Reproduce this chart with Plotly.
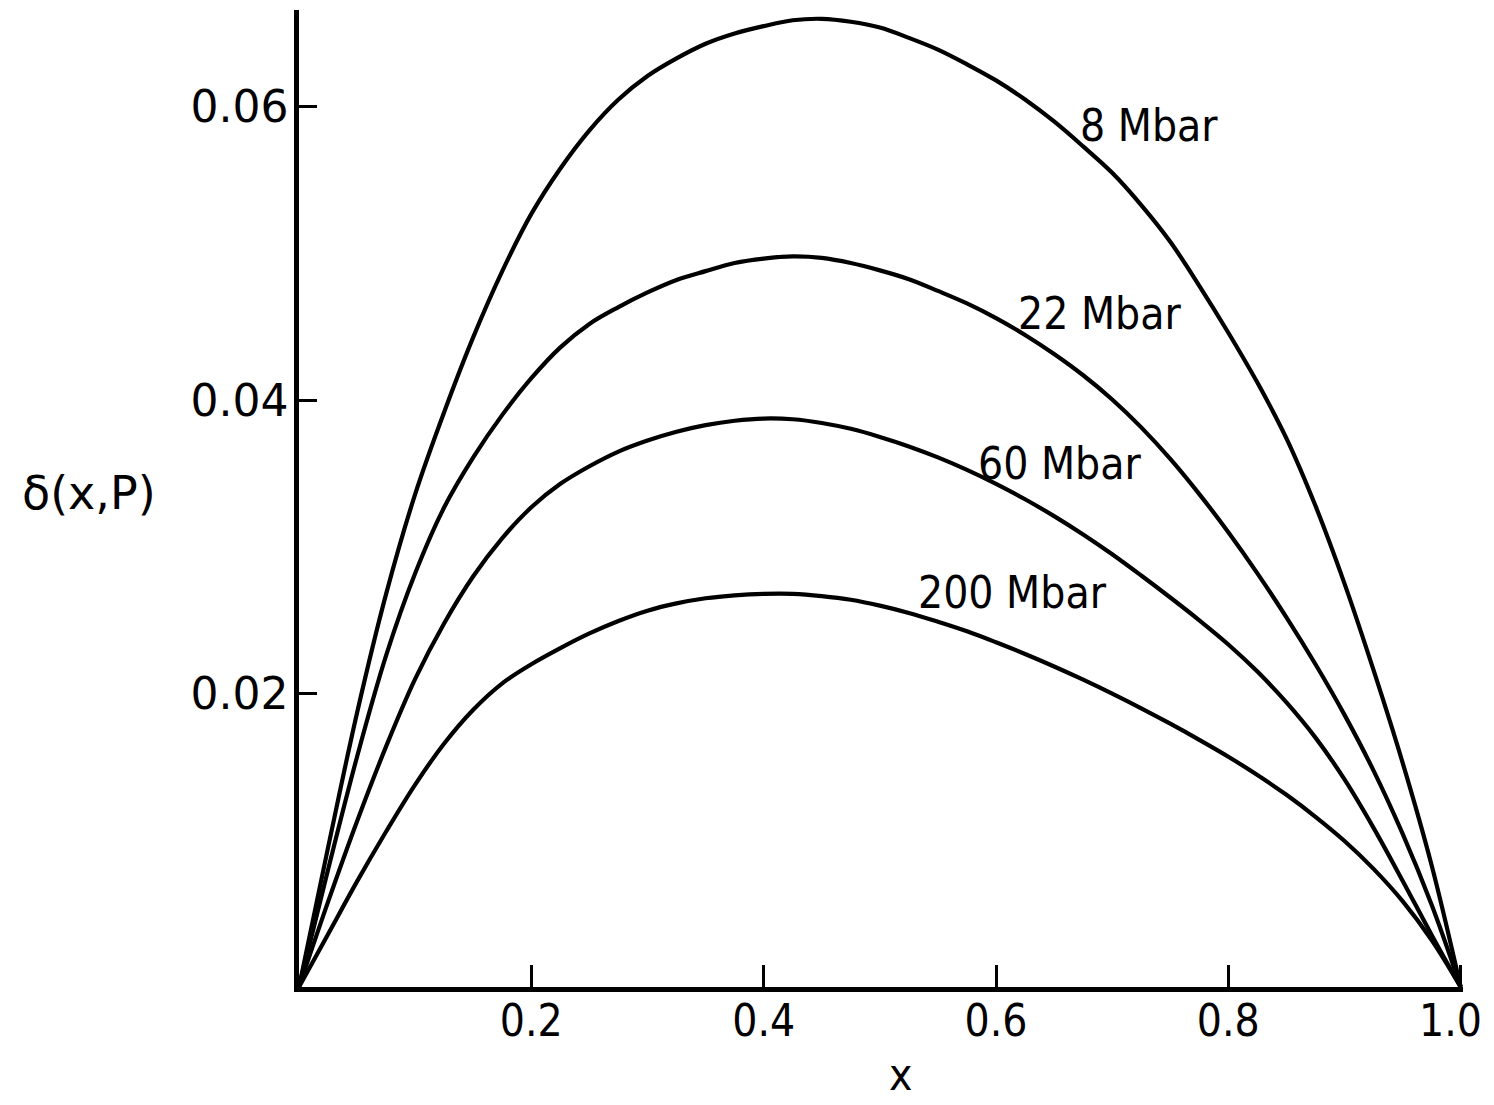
import plotly.graph_objects as go

# ---- data ----
x_grid = [0, 0.025, 0.05, 0.075, 0.10, 0.125, 0.15, 0.175, 0.20, 0.225, 0.25, 0.275, 0.30,
          0.325, 0.35, 0.375, 0.40, 0.425, 0.45, 0.475, 0.50, 0.525, 0.55, 0.575, 0.60,
          0.625, 0.65, 0.675, 0.70, 0.725, 0.75, 0.775, 0.80, 0.825, 0.85, 0.875, 0.90,
          0.925, 0.95, 0.975, 1.0]

y_8 = [0, 0.0095, 0.0187, 0.0268, 0.0336, 0.0392, 0.0443, 0.0488, 0.0527, 0.0558, 0.0584, 0.0605, 0.0621,
       0.0633, 0.0643, 0.0650, 0.0655, 0.0659, 0.0660, 0.0658, 0.0654, 0.0647, 0.0639, 0.0629, 0.0618,
       0.0605, 0.0590, 0.0573, 0.0555, 0.0533, 0.0508, 0.0478, 0.0446, 0.0412, 0.0374, 0.0328, 0.0275,
       0.0216, 0.0153, 0.0083, 0]

y_22 = [0, 0.0080, 0.0157, 0.0226, 0.0282, 0.0327, 0.0361, 0.0390, 0.0415, 0.0436, 0.0452, 0.04635, 0.04735,
        0.0482, 0.0488, 0.04935, 0.04965, 0.0498, 0.0497, 0.04935, 0.04885, 0.04825, 0.04745, 0.0466, 0.0456,
        0.04445, 0.04315, 0.0417, 0.04005, 0.03815, 0.0360, 0.0336, 0.0310, 0.0282, 0.0252, 0.0220, 0.01855,
        0.01475, 0.01045, 0.0056, 0]

y_60 = [0, 0.0058, 0.0113, 0.0164, 0.0210, 0.0248, 0.0280, 0.0306, 0.0327, 0.0343, 0.0355, 0.0365, 0.03725,
        0.03785, 0.0383, 0.0386, 0.03875, 0.0387, 0.03845, 0.03805, 0.0375, 0.03685, 0.0361, 0.03525, 0.0343,
        0.03325, 0.0321, 0.03085, 0.0295, 0.02805, 0.02655, 0.0250, 0.02335, 0.0215, 0.0194, 0.0170, 0.01415,
        0.01085, 0.00725, 0.00355, 0]

y_200 = [0, 0.0036, 0.0072, 0.0106, 0.0138, 0.0166, 0.0189, 0.0207, 0.0220, 0.0231, 0.0241, 0.02495, 0.02565,
         0.02615, 0.0265, 0.0267, 0.0268, 0.0268, 0.02665, 0.0264, 0.0260, 0.0255, 0.0249, 0.02425, 0.0235,
         0.0227, 0.02185, 0.02095, 0.0200, 0.0190, 0.01795, 0.01685, 0.0157, 0.01445, 0.0131, 0.0116, 0.00995,
         0.00805, 0.00585, 0.0032, 0]

series_names = ["8 Mbar", "22 Mbar", "60 Mbar", "200 Mbar"]
label_x = [0.732, 0.689, 0.655, 0.614]
label_y = [0.0587, 0.0459, 0.0357, 0.0269]

x_tickvals = [0.2, 0.4, 0.6, 0.8, 1.0]
x_ticktext = ["0.2", "0.4", "0.6", "0.8", ""]   # last label drawn separately so it stays inside the page
last_x_label = "1.0"
y_tickvals = [0.02, 0.04, 0.06]
y_ticktext = ["0.02", "0.04", "0.06"]

FONT = "DejaVu Sans"
CFONT = "DejaVu Sans Condensed, Liberation Sans Narrow, Roboto Condensed, DejaVu Sans"

fig = go.Figure()
for ys, name in zip([y_8, y_22, y_60, y_200], series_names):
    fig.add_trace(go.Scatter(x=x_grid, y=ys, mode="lines", name=name,
                             line=dict(color="black", width=4.2, shape="spline", smoothing=1.0),
                             showlegend=False, hoverinfo="skip"))

for name, lx, ly in zip(series_names, label_x, label_y):
    fig.add_annotation(x=lx, y=ly, xref="x", yref="y", text=name, showarrow=False,
                       font=dict(family=CFONT, size=44, color="black"),
                       xanchor="center", yanchor="middle")

# right-most x tick label, anchored at its right edge
fig.add_annotation(x=1.018, y=-0.034, xref="paper", yref="paper", text=last_x_label, showarrow=False,
                   font=dict(family=CFONT, size=44, color="black"), xanchor="right", yanchor="middle")

# axis titles (paper coordinates so they are not hidden outside the data range)
fig.add_annotation(x=-0.180, y=0.506, xref="paper", yref="paper", text="δ(x,P)", showarrow=False,
                   font=dict(family=FONT, size=46, color="black"), xanchor="center", yanchor="middle")
fig.add_annotation(x=0.517, y=-0.090, xref="paper", yref="paper", text="x", showarrow=False,
                   font=dict(family=CFONT, size=44, color="black"), xanchor="center", yanchor="middle")

fig.update_xaxes(range=[0, 1.002], showgrid=False, zeroline=False, showline=True,
                 linecolor="black", linewidth=4.5, ticks="inside", ticklen=22, tickwidth=3,
                 tickcolor="black", tickvals=x_tickvals, ticktext=x_ticktext,
                 tickfont=dict(family=CFONT, size=44, color="black"), ticklabelstandoff=-9,
                 ticklabeloverflow="allow")
fig.update_yaxes(range=[0, 0.0666], showgrid=False, zeroline=False, showline=True,
                 linecolor="black", linewidth=4.5, ticks="inside", ticklen=18, tickwidth=3,
                 tickcolor="black", tickvals=y_tickvals, ticktext=y_ticktext,
                 tickfont=dict(family=FONT, size=44, color="black"), ticklabelstandoff=-3)

fig.update_layout(width=1486, height=1097, paper_bgcolor="white", plot_bgcolor="white",
                  margin=dict(l=291, r=31, t=2, b=118), showlegend=False)

fig.write_html("out.html")
